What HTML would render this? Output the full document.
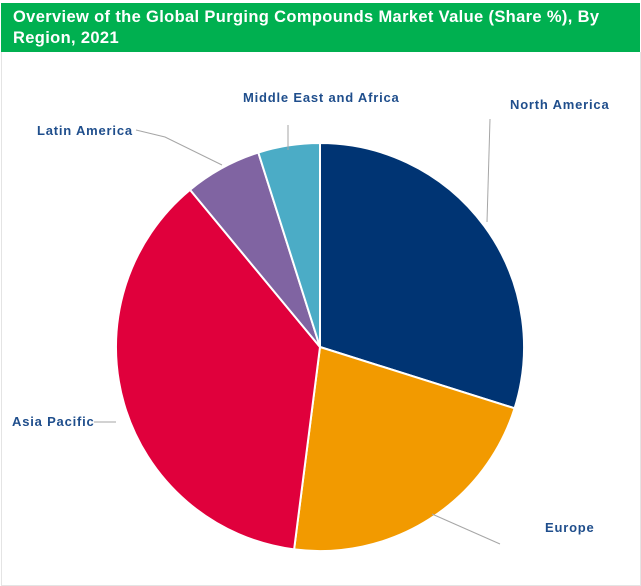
<!DOCTYPE html>
<html><head><meta charset="utf-8"><style>
html,body{margin:0;padding:0;background:#fff;width:641px;height:586px;overflow:hidden}
.hdr{position:absolute;left:1px;top:3px;width:639px;height:49px;background:#00b050;color:#fff;font:bold 16.5px "Liberation Sans",sans-serif;letter-spacing:0.35px;line-height:21px;padding:4px 0 0 12px;box-sizing:border-box}
.box{position:absolute;left:1px;top:52px;width:638px;height:533px;border:1px solid #e4e4e4;border-top:none}
</style></head><body>
<div class="box"></div>
<div class="hdr">Overview of the Global Purging Compounds Market Value (Share %), By<br>Region, 2021</div>
<svg width="641" height="586" style="position:absolute;left:0;top:0">
<g stroke="#fff" stroke-width="2">
<path d="M320,347 L320,143 A204,204 0 0 1 514.6,408.3 Z" fill="#003473"/>
<path d="M320,347 L514.6,408.3 A204,204 0 0 1 294.1,549.4 Z" fill="#f29a00"/>
<path d="M320,347 L294.1,549.4 A204,204 0 0 1 190,189.8 Z" fill="#e0003c"/>
<path d="M320,347 L190,189.8 A204,204 0 0 1 258.3,152.5 Z" fill="#8064a2"/>
<path d="M320,347 L258.3,152.5 A204,204 0 0 1 320,143 Z" fill="#4bacc6"/>
</g>
<g stroke="#a6a6a6" stroke-width="1" fill="none">
<path d="M490,119 L487,222"/>
<path d="M432,514 L500,544"/>
<path d="M94,422 L116,422"/>
<path d="M136,130 L165,137 L222,165"/>
<path d="M288,125 L288,150"/>
</g>
<g font-family="Liberation Sans,sans-serif" font-weight="bold" font-size="13" fill="#1f4e8c" letter-spacing="0.8">
<text x="510" y="109">North America</text>
<text x="545" y="532">Europe</text>
<text x="12" y="426">Asia Pacific</text>
<text x="37" y="135">Latin America</text>
<text x="243" y="102">Middle East and Africa</text>
</g>
</svg>
</body></html>
